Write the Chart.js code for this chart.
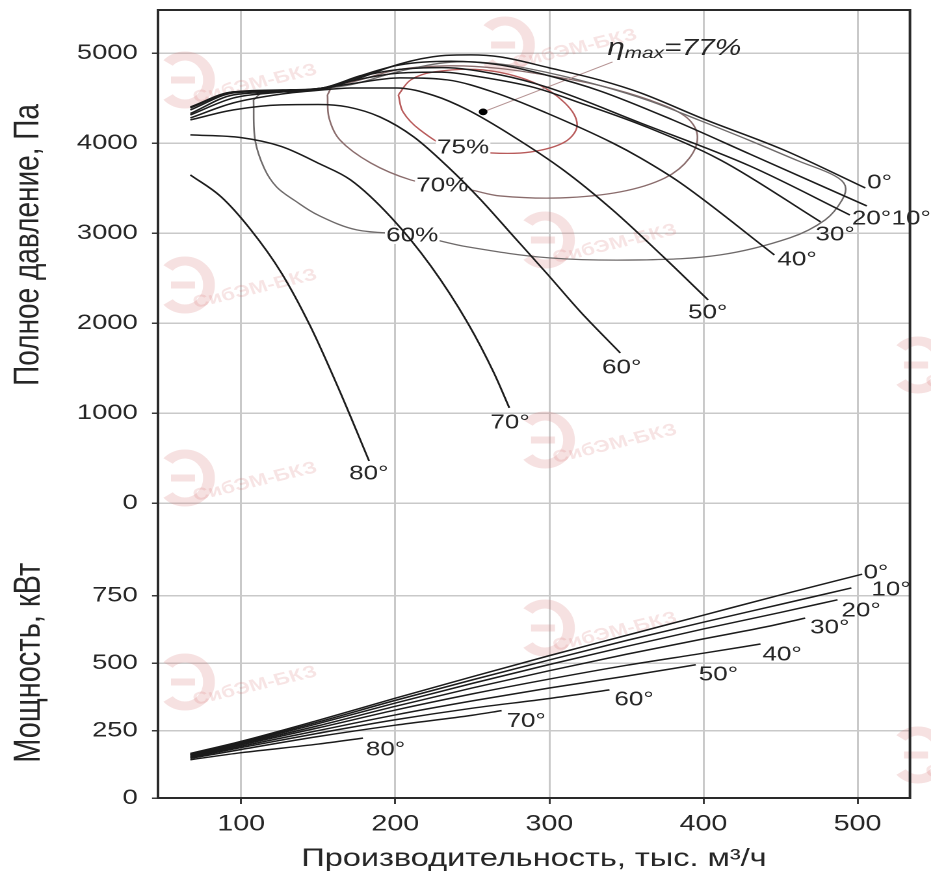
<!DOCTYPE html>
<html lang="ru">
<head>
<meta charset="utf-8">
<title>Аэродинамическая характеристика</title>
<script src="https://cdn.jsdelivr.net/npm/chart.js@4.4.1/dist/chart.umd.min.js"></script>
<style>
  html, body { margin: 0; padding: 0; background: #fff; overflow: hidden; }
  /* the reference picture is stretched sideways, so the canvas is stretched the same way */
  #wrap { width: 716px; height: 883px; transform: scale(1.3003, 1); transform-origin: 0 0; }
</style>
</head>
<body>
<div id="wrap"><canvas id="chart"></canvas></div>
<script>
const X_TICKS = [100, 200, 300, 400, 500];
const P_TICKS = [0, 1000, 2000, 3000, 4000, 5000];
const N_TICKS = [0, 250, 500, 750];
const ANGLES = ['0°', '10°', '20°', '30°', '40°', '50°', '60°', '70°', '80°'];

// full pressure, Pa, against flow, thousand m3/h
const P_0 = [[67, 4330], [95, 4537], [127, 4570], [153, 4600], [177, 4726], [203, 4881], [229, 4970], [249, 4981], [268, 4959], [300, 4837], [333, 4700], [359, 4560], [400, 4270], [452, 3926], [505, 3503]];
const P_10 = [[67, 4370], [95, 4559], [127, 4581], [153, 4614], [177, 4748], [203, 4870], [236, 4910], [268, 4870], [300, 4748], [333, 4580], [380, 4259], [430, 3880], [506, 3303]];
const P_20 = [[67, 4392], [95, 4570], [127, 4592], [153, 4614], [177, 4740], [203, 4820], [230, 4840], [268, 4759], [300, 4614], [359, 4226], [430, 3748], [495, 3203]];
const P_30 = [[67, 4403], [95, 4570], [127, 4581], [153, 4614], [171, 4690], [203, 4780], [230, 4790], [255, 4737], [290, 4620], [320, 4448], [363, 4181], [411, 3814], [476, 3126]];
const P_40 = [[67, 4314], [95, 4503], [127, 4570], [153, 4614], [171, 4659], [203, 4726], [234, 4703], [265, 4560], [298, 4337], [341, 4003], [359, 3837], [385, 3560], [446, 2759]];
const P_50 = [[67, 4281], [95, 4448], [127, 4548], [153, 4592], [171, 4614], [201, 4614], [225, 4530], [247, 4370], [277, 4070], [309, 3703], [341, 3259], [374, 2737], [403, 2259]];
const P_60 = [[67, 4259], [95, 4370], [126, 4426], [150, 4430], [169, 4403], [190, 4292], [212, 4070], [234, 3740], [255, 3380], [277, 2960], [299, 2540], [320, 2130], [346, 1670]];
const P_70 = [[67, 4092], [100, 4062], [126, 3964], [151, 3770], [171, 3592], [197, 3181], [223, 2637], [247, 2003], [264, 1448], [274, 1059]];
const P_80 = [[67, 3648], [87, 3404], [106, 3043], [126, 2562], [145, 1962], [164, 1243], [183, 470]];

// shaft power, kW
const N_0 = [[67, 165], [100, 210], [150, 288], [200, 370], [250, 450], [300, 528], [350, 603], [400, 678], [450, 753], [503, 830]];
const N_10 = [[67, 162], [100, 207], [150, 282], [200, 362], [250, 438], [300, 512], [350, 584], [400, 652], [450, 718], [496, 779]];
const N_20 = [[67, 160], [100, 204], [150, 276], [200, 352], [250, 425], [300, 495], [350, 562], [400, 627], [450, 688], [487, 735]];
const N_30 = [[67, 158], [100, 201], [150, 268], [200, 340], [250, 408], [300, 472], [350, 533], [400, 590], [440, 634], [466, 667]];
const N_40 = [[67, 155], [100, 197], [150, 260], [200, 326], [250, 386], [300, 441], [350, 492], [400, 537], [437, 571]];
const N_50 = [[67, 152], [100, 192], [150, 250], [200, 308], [250, 360], [300, 408], [350, 452], [395, 494]];
const N_60 = [[67, 150], [100, 187], [150, 240], [200, 290], [250, 333], [300, 369], [339, 401]];
const N_70 = [[67, 147], [100, 180], [150, 228], [200, 270], [250, 307], [269, 324]];
const N_80 = [[67, 142], [100, 168], [150, 200], [179, 222]];

const PRESSURE = [P_0, P_10, P_20, P_30, P_40, P_50, P_60, P_70, P_80];
const POWER = [N_0, N_10, N_20, N_30, N_40, N_50, N_60, N_70, N_80];

// efficiency contours, closed
const EFF_LEVELS = ['60%', '70%', '75%'];
const EFF_60 = [[108, 4481], [114, 4560], [138, 4580], [171, 4650], [203, 4800], [236, 4900], [268, 4880], [300, 4780], [333, 4640], [365, 4470], [398, 4250], [430, 4030], [462, 3800], [485, 3640], [492, 3526], [490, 3370], [479, 3148], [456, 2948], [411, 2759], [359, 2703], [300, 2726], [247, 2848], [211, 2981], [175, 3037], [150, 3200], [135, 3360], [123, 3514], [115, 3720], [109, 4037], [108, 4481]];
const EFF_70 = [[156, 4537], [160, 4640], [172, 4680], [203, 4820], [236, 4860], [268, 4830], [300, 4750], [333, 4640], [365, 4480], [388, 4300], [396, 4092], [391, 3837], [375, 3614], [346, 3459], [307, 3392], [268, 3414], [249, 3481], [230, 3537], [210, 3592], [184, 3781], [164, 4037], [157, 4281], [156, 4537]];
const EFF_75 = [[202, 4537], [210, 4703], [225, 4792], [257, 4814], [289, 4681], [310, 4448], [318, 4203], [310, 4014], [288, 3903], [262, 3892], [236, 3948], [216, 4148], [205, 4348], [202, 4537]];
const EFF_CURVES = [EFF_60, EFF_70, EFF_75];
const EFF_LABEL_AT = [[211, 2981], [230.5, 3537], [244, 3959]];
const ETA_MAX = [257, 4348];
const ETA_LEADER = [ETA_MAX, [341, 4903]];

// label offsets from the end of each curve, canvas px
const P_LABEL_OFFSET = [[1.5, -5], [19, 13], [1.5, 4], [-4, 13], [2.3, 5], [-15.4, 13], [-14, 15], [-14.6, 15], [-15.4, 13]];
const N_LABEL_OFFSET = [[1, -1], [15.4, 2], [3, 11], [3.8, 10], [1.5, 11], [2.3, 10], [3.8, 10], [3.8, 11], [2.3, 12]];
const EFF_COLORS = ['#6e6a6a', '#8a6c6c', '#b85a5a'];
const WATERMARKS = [[185, 80], [505, 45], [545, 240], [185, 285], [545, 440], [185, 478], [545, 628], [185, 682], [918, 365], [918, 755]];

const FONT = 'Liberation Sans, Arial, Helvetica, sans-serif';
const SX = 1.3003;
const INK = '#262626';
const NBSP = '\u00a0';

const points = (pts) => pts.map(([x, y]) => ({ x, y }));

function curve(pts, axis, label, offset) {
  return {
    data: points(pts),
    yAxisID: axis,
    borderColor: '#1c1c1c',
    borderWidth: 1.5,
    pointRadius: 0,
    cubicInterpolationMode: 'monotone',
    angleLabel: label,
    labelOffset: offset
  };
}

const datasets = [];
PRESSURE.forEach((pts, i) => datasets.push(curve(pts, 'yP', ANGLES[i], P_LABEL_OFFSET[i])));
POWER.forEach((pts, i) => datasets.push(curve(pts, 'yN', ANGLES[i], N_LABEL_OFFSET[i])));
datasets.push({ data: [{ x: ETA_MAX[0], y: ETA_MAX[1] }], yAxisID: 'yP', pointRadius: 3.4, pointBackgroundColor: '#000', pointBorderWidth: 0, showLine: false });
datasets.push({ data: points(ETA_LEADER), yAxisID: 'yP', borderColor: '#b59393', borderWidth: 1, pointRadius: 0, etaLabel: true });
EFF_CURVES.forEach((pts, i) => datasets.push({
  data: points(pts),
  yAxisID: 'yP',
  borderColor: EFF_COLORS[i],
  borderWidth: 1.3,
  pointRadius: 0,
  tension: 0.35,
  effLabel: EFF_LEVELS[i],
  effAt: EFF_LABEL_AT[i]
}));

const watermark = {
  id: 'watermark',
  beforeDatasetsDraw(chart) {
    const ctx = chart.ctx;
    ctx.save();
    WATERMARKS.forEach(([sx, sy]) => {
      const cx = sx / SX;
      ctx.strokeStyle = 'rgba(214, 120, 120, 0.22)';
      ctx.lineWidth = 9;
      ctx.beginPath();
      ctx.ellipse(cx, sy, 24 / SX, 24, 0, -0.75 * Math.PI, 0.75 * Math.PI);
      ctx.stroke();
      ctx.lineWidth = 7;
      ctx.beginPath();
      ctx.moveTo(cx - 14 / SX, sy);
      ctx.lineTo(cx + 10 / SX, sy);
      ctx.stroke();
      ctx.save();
      ctx.translate(cx + 70 / SX, sy + 4);
      ctx.rotate(-0.3);
      ctx.fillStyle = 'rgba(214, 120, 120, 0.2)';
      ctx.font = `bold 17px ${FONT}`;
      ctx.textAlign = 'center';
      ctx.textBaseline = 'middle';
      ctx.fillText('СибЭМ-БКЗ', 0, 0);
      ctx.restore();
    });
    ctx.restore();
  }
};

const labels = {
  id: 'labels',
  afterDatasetDraw(chart, args) {
    const ds = chart.data.datasets[args.index];
    if (!ds.effLabel) return;
    const ctx = chart.ctx;
    const x = chart.scales.x.getPixelForValue(ds.effAt[0]);
    const y = chart.scales.yP.getPixelForValue(ds.effAt[1]);
    ctx.save();
    ctx.font = `20px ${FONT}`;
    const w = ctx.measureText(ds.effLabel).width;
    ctx.fillStyle = '#fff';
    ctx.fillRect(x - w / 2 - 1, y - 9, w + 2, 18);
    ctx.fillStyle = INK;
    ctx.textAlign = 'center';
    ctx.textBaseline = 'middle';
    ctx.fillText(ds.effLabel, x, y + 1);
    ctx.restore();
  },
  afterDatasetsDraw(chart) {
    const ctx = chart.ctx;
    ctx.save();
    ctx.fillStyle = INK;
    ctx.textBaseline = 'middle';
    chart.data.datasets.forEach((ds, i) => {
      const last = chart.getDatasetMeta(i).data.at(-1);
      if (ds.angleLabel) {
        ctx.font = `20px ${FONT}`;
        ctx.fillText(ds.angleLabel, last.x + ds.labelOffset[0], last.y + ds.labelOffset[1]);
      }
      if (ds.etaLabel) {
        let x = last.x - 4;
        const y = last.y - 7;
        ctx.textBaseline = 'alphabetic';
        ctx.font = `italic 24px ${FONT}`;
        ctx.fillText('η', x, y);
        x += ctx.measureText('η').width;
        ctx.font = `italic 16px ${FONT}`;
        ctx.fillText('max', x, y + 3);
        x += ctx.measureText('max').width;
        ctx.font = `italic 23px ${FONT}`;
        ctx.fillText('=77%', x, y);
        ctx.textBaseline = 'middle';
      }
    });
    ctx.restore();
  },
  afterDraw(chart) {
    const { ctx, chartArea: a } = chart;
    ctx.save();
    ctx.strokeStyle = '#2a2a2a';
    ctx.lineWidth = 2;
    ctx.strokeRect(a.left, a.top, a.right - a.left, a.bottom - a.top);
    ctx.restore();
  }
};

const grid = { color: '#c9c9c9', lineWidth: 1.5, tickColor: '#3a3a3a', tickWidth: 1.5 };
const setTicks = (values) => (scale) => { scale.ticks = values.map((value) => ({ value })); };
// fixed width, and no extra room kept for the end labels
const fitY = (s) => { s.width = 121.5; s.paddingTop = 0; s.paddingBottom = 0; };

new Chart(document.getElementById('chart'), {
  type: 'scatter',
  data: { datasets },
  options: {
    responsive: true,
    maintainAspectRatio: false,
    animation: false,
    devicePixelRatio: 2,
    events: [],
    showLine: true,
    layout: { padding: { top: 10, right: 16.2, left: 0, bottom: 0 } },
    plugins: { legend: { display: false }, tooltip: { enabled: false } },
    scales: {
      x: {
        type: 'linear',
        min: 46,
        max: 534,
        afterBuildTicks: setTicks(X_TICKS),
        afterFit: (s) => { s.height = 85; },
        border: { display: false },
        grid: { ...grid, tickLength: 6 },
        ticks: { color: INK, font: { family: FONT, size: 22 }, padding: 7, autoSkip: false, maxRotation: 0 },
        title: { display: true, text: 'Производительность, тыс. м³/ч', color: INK, font: { family: FONT, size: 25 }, padding: { top: 0, bottom: 9 } }
      },
      yN: {
        type: 'linear',
        position: 'left',
        stack: 'panels',
        stackWeight: 294.8,
        min: 0,
        max: 1093,
        afterBuildTicks: setTicks(N_TICKS),
        afterFit: fitY,
        border: { display: false },
        grid: { ...grid, tickLength: 4.6 },
        ticks: { color: INK, font: { family: FONT, size: 21 }, padding: 11, callback: (v) => String(v) },
        title: { display: true, text: 'Мощность, кВт' + NBSP.repeat(3), color: INK, font: { family: FONT, size: 29 }, padding: { top: 5 } }
      },
      yP: {
        type: 'linear',
        position: 'left',
        stack: 'panels',
        stackWeight: 493.3,
        min: 0,
        max: 5480,
        afterBuildTicks: setTicks(P_TICKS),
        afterFit: fitY,
        border: { display: false },
        grid: { ...grid, tickLength: 4.6 },
        ticks: { color: INK, font: { family: FONT, size: 21 }, padding: 11, callback: (v) => String(v) },
        title: { display: true, text: NBSP.repeat(3) + 'Полное давление, Па', color: INK, font: { family: FONT, size: 28 }, padding: { top: 5 } }
      }
    }
  },
  plugins: [watermark, labels]
});
</script>
</body>
</html>
